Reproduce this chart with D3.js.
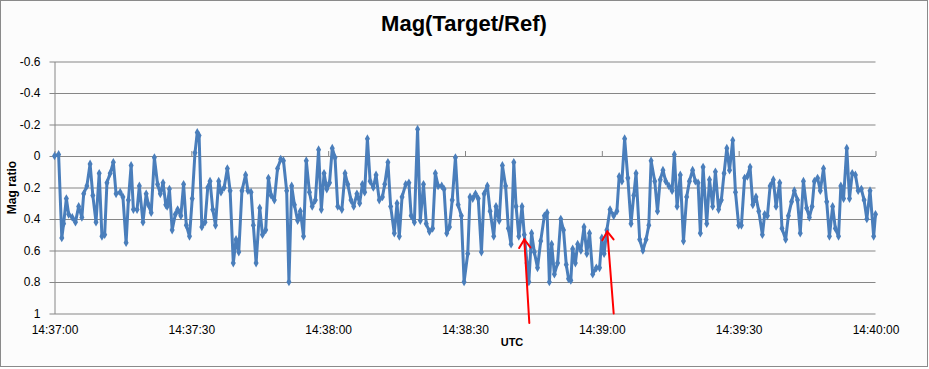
<!DOCTYPE html>
<html>
<head>
<meta charset="utf-8">
<script src="https://cdn.jsdelivr.net/npm/d3@7"></script>
<style>
  html, body { margin: 0; padding: 0; background: #ffffff; }
  svg { display: block; }
</style>
</head>
<body>
<svg id="chart" width="929" height="369"></svg>
<script>
// ---------------- DATA ----------------
const chartTitle = "Mag(Target/Ref)";
const yAxisTitle = "Mag ratio";
const xAxisTitle = "UTC";

// x tick positions (seconds after 14:37:00) and their labels
const xTickSecs   = [0, 30, 60, 90, 120, 150, 180];
const xTickLabels = ["14:37:00", "14:37:30", "14:38:00", "14:38:30", "14:39:00", "14:39:30", "14:40:00"];

// y ticks (axis reversed: -0.6 at top, 1 at bottom)
const yTickValues = [-0.6, -0.4, -0.2, 0, 0.2, 0.4, 0.6, 0.8, 1];
const yTickLabels = ["-0.6", "-0.4", "-0.2", "0", "0.2", "0.4", "0.6", "0.8", "1"];

// series: seconds after 14:37:00
const secs = [
  0.0, 0.9, 1.6, 2.0, 2.6, 3.1, 3.9, 4.6, 5.3, 6.0, 6.4, 7.1, 7.8, 8.4, 9.1, 9.8, 10.4, 11.0, 11.5, 12.2,
  12.9, 13.5, 14.4, 15.0, 15.7, 16.2, 16.8, 17.3, 18.1, 18.6, 19.4, 20.1, 20.6, 21.2, 21.9, 22.6,
  23.2, 23.8, 24.4, 24.7, 25.2, 25.8, 26.5, 27.0, 27.7, 28.3, 28.9, 29.6, 30.2, 30.8, 31.3, 31.7, 32.3,
  33.0, 33.6, 34.1, 34.7, 35.3, 36.0, 36.5, 37.2, 37.9, 38.5, 39.2, 39.8, 40.4, 41.1, 41.9, 42.4, 43.1,
  43.6, 44.2, 45.0, 45.6, 46.3, 46.9, 47.5, 48.2, 48.9, 49.6, 50.2, 50.9, 51.4, 52.0, 52.6, 53.3, 53.9,
  54.6, 55.2, 55.9, 56.5, 57.2, 57.9, 58.5, 59.1, 59.7, 60.3, 60.9, 61.5, 62.1, 63.0, 63.7, 64.3, 65.0,
  65.6, 66.3, 66.9, 67.5, 68.0, 68.6, 69.2, 69.9, 70.5, 71.2, 71.9, 72.4, 73.1, 73.7, 74.5, 75.1, 75.6,
  76.2, 77.0, 77.7, 78.2, 78.9, 79.6, 80.2, 80.9, 81.5, 82.2, 82.9, 83.5, 84.1, 84.9, 85.4, 86.0, 86.6,
  87.2, 87.9, 88.5, 89.2, 89.8, 90.6, 91.1, 91.7, 92.3, 92.9, 93.6, 94.2, 94.9, 95.5, 96.3, 96.8, 97.5,
  98.2, 98.9, 99.5, 100.1, 100.7, 101.2, 101.8, 102.5, 103.0, 103.6, 104.0, 104.6, 105.2, 105.9, 106.6,
  107.4, 108.0, 108.5, 109.0, 109.6, 110.3, 111.0, 111.6, 112.2, 112.7, 113.2, 113.6, 114.2, 114.7,
  115.4, 116.1, 116.7, 117.3, 118.0, 118.8, 119.5, 120.0, 120.5, 121.1, 121.8, 122.6, 123.3, 123.8,
  124.4, 125.0, 125.7, 126.4, 127.0, 127.5, 128.3, 129.0, 129.7, 130.3, 130.8, 131.6, 132.2, 132.8,
  133.4, 134.0, 134.7, 135.4, 135.9, 136.5, 137.2, 137.9, 138.6, 139.2, 139.9, 140.5, 141.1, 141.6,
  142.2, 143.0, 143.6, 144.3, 144.9, 145.6, 146.2, 146.8, 147.4, 148.0, 148.7, 149.3, 150.0, 150.6,
  151.3, 151.9, 152.5, 153.1, 153.8, 154.4, 155.2, 155.7, 156.3, 156.9, 157.6, 158.2, 159.0, 159.5,
  160.3, 160.9, 161.6, 162.2, 162.9, 163.5, 164.2, 164.9, 165.5, 166.1, 166.6, 167.3, 167.9, 168.6,
  169.3, 169.9, 170.6, 171.2, 171.9, 172.4, 173.0, 173.7, 174.3, 174.9, 175.6, 176.2, 176.9, 177.5,
  178.1, 178.8, 179.6, 180.0
];
const mag = [
  0.00, -0.01, 0.52, 0.43, 0.27, 0.37, 0.39, 0.42, 0.32, 0.39, 0.24, 0.19, 0.05, 0.25, 0.42, 0.11, 0.51, 0.50, 0.17, 0.11,
  0.04, 0.24, 0.23, 0.26, 0.55, 0.28, 0.06, 0.34, 0.34, 0.19, 0.42, 0.24, 0.31, 0.36, 0.01, 0.18,
  0.24, 0.17, 0.31, 0.32, 0.21, 0.47, 0.37, 0.34, 0.38, 0.18, 0.44, 0.51, 0.27, -0.02, -0.15, -0.13, 0.45,
  0.42, 0.20, 0.16, 0.34, 0.44, 0.16, 0.23, 0.20, 0.08, 0.22, 0.68, 0.53, 0.61, 0.22, 0.12, 0.22, 0.23,
  0.44, 0.68, 0.33, 0.50, 0.47, 0.14, 0.25, 0.28, 0.08, 0.02, 0.03, 0.22, 0.80, 0.19, 0.31, 0.41, 0.35,
  0.51, 0.03, 0.23, 0.32, 0.28, -0.04, 0.34, 0.11, 0.21, 0.17, -0.05, 0.01, 0.32, 0.34, 0.11, 0.18, 0.28,
  0.32, 0.24, 0.30, 0.18, 0.23, -0.11, 0.16, 0.20, 0.12, 0.28, 0.26, 0.18, 0.04, 0.32, 0.49, 0.30, 0.51,
  0.26, 0.18, 0.17, 0.38, 0.42, -0.17, 0.41, 0.18, 0.43, 0.48, 0.46, 0.11, 0.19, 0.19, 0.21, 0.49, 0.45,
  0.28, 0.01, 0.31, 0.38, 0.80, 0.62, 0.26, 0.27, 0.24, 0.27, 0.61, 0.24, 0.19, 0.35, 0.51, 0.32, 0.41,
  0.06, 0.19, 0.46, 0.56, 0.04, 0.32, 0.51, 0.32, 0.50, 0.68, 0.80, 0.49, 0.61, 0.71, 0.54,
  0.38, 0.36, 0.80, 0.56, 0.75, 0.68, 0.40, 0.47, 0.69, 0.78, 0.79, 0.59, 0.68, 0.56,
  0.60, 0.45, 0.62, 0.49, 0.75, 0.71, 0.71, 0.52, 0.62, 0.47, 0.34, 0.38, 0.35, 0.13,
  0.16, -0.11, 0.14, 0.43, 0.25, 0.11, 0.53, 0.60, 0.53, 0.44, 0.03, 0.16, 0.35, 0.15,
  0.09, 0.16, 0.19, 0.22, -0.01, 0.32, 0.12, 0.54, 0.26, 0.16, 0.09, 0.16, 0.17, 0.49,
  0.07, 0.43, 0.15, 0.32, 0.10, 0.34, 0.28, 0.11, -0.05, 0.09, -0.10, 0.23, 0.44, 0.44,
  0.14, 0.13, 0.07, 0.31, 0.26, 0.35, 0.50, 0.37, 0.38, 0.19, 0.15, 0.32, 0.17, 0.46,
  0.53, 0.38, 0.29, 0.22, 0.28, 0.49, 0.16, 0.33, 0.39, 0.32, 0.16, 0.14, 0.22, 0.08,
  0.29, 0.51, 0.32, 0.46, 0.51, 0.19, 0.27, -0.05, 0.27, 0.11, 0.12, 0.22, 0.21, 0.28,
  0.40, 0.22, 0.51, 0.37
];

// red annotation arrows (data units: seconds, magnitude)
const arrowTipSecs  = [103.0, 121.2];
const arrowTipMag   = [0.53, 0.48];
const arrowTailSecs = [104.1, 122.6];
const arrowTailMag  = [1.06, 1.00];

// ---------------- DRAW ----------------
const svg = d3.select("#chart");
const W = 929, H = 369;

svg.append("rect")
  .attr("x", 0.5).attr("y", 0.5).attr("width", W - 2).attr("height", H - 3)
  .attr("fill", "#fcfcfc").attr("stroke", "#8a8a8a").attr("stroke-width", 1);

const x = d3.scaleLinear().domain([0, 180]).range([54.5, 875.5]);
const y = d3.scaleLinear().domain([-0.6, 1]).range([61.5, 313.5]);
const plotW = x.range()[1] - x.range()[0];

const gridColor = "#868686";
const fontFam = "'Liberation Sans', Arial, sans-serif";

// Y axis with gridlines
const yAxis = d3.axisLeft(y)
  .tickValues(yTickValues)
  .tickFormat((d, i) => yTickLabels[i])
  .tickSize(-plotW)
  .tickSizeOuter(0)
  .tickPadding(14);
const gy = svg.append("g").attr("transform", `translate(${x.range()[0]},0)`).call(yAxis);
gy.select(".domain").attr("stroke", gridColor).attr("stroke-width", 1);
gy.selectAll(".tick line").attr("stroke", gridColor).attr("stroke-width", 1).attr("x1", -5);
gy.selectAll(".tick text")
  .attr("font-family", fontFam).attr("font-size", "12px").attr("fill", "#000");

// X axis line at value 0 with upward ticks
const xAxisLine = d3.axisTop(x).tickValues(xTickSecs).tickFormat("").tickSize(5).tickSizeOuter(0);
const gx0 = svg.append("g").attr("transform", `translate(0,${y(0)})`).call(xAxisLine);
gx0.select(".domain").attr("stroke", gridColor);
gx0.selectAll(".tick line").attr("stroke", gridColor);

// X tick labels at bottom
const xAxisLabels = d3.axisBottom(x).tickValues(xTickSecs)
  .tickFormat((d, i) => xTickLabels[i]).tickSize(0).tickPadding(12);
const gx = svg.append("g").attr("transform", `translate(0,${y(1)})`).call(xAxisLabels);
gx.select(".domain").remove();
gx.selectAll(".tick text").attr("font-family", fontFam).attr("font-size", "12px").attr("fill", "#000");

// Title
svg.append("text")
  .attr("x", 464).attr("y", 31)
  .attr("text-anchor", "middle")
  .attr("font-family", fontFam).attr("font-weight", "bold").attr("font-size", "22px")
  .attr("fill", "#000")
  .text(chartTitle);

// Axis titles
svg.append("text")
  .attr("transform", `translate(16,${(y(-0.6) + y(1)) / 2}) rotate(-90)`)
  .attr("text-anchor", "middle")
  .attr("font-family", fontFam).attr("font-weight", "bold").attr("font-size", "12px")
  .attr("fill", "#000")
  .text(yAxisTitle);

svg.append("text")
  .attr("x", 512).attr("y", 346)
  .attr("text-anchor", "middle")
  .attr("font-family", fontFam).attr("font-weight", "bold").attr("font-size", "11px")
  .attr("fill", "#000")
  .text(xAxisTitle);

// Series line
const pts = secs.map((s, i) => [s, mag[i]]);
const line = d3.line().x(d => x(d[0])).y(d => y(d[1]));
const seriesColor = "#4a7ebb";

svg.append("path")
  .datum(pts)
  .attr("fill", "none")
  .attr("stroke", seriesColor)
  .attr("stroke-width", 3)
  .attr("stroke-linejoin", "round")
  .attr("d", line);

svg.append("g").selectAll("path")
  .data(pts)
  .join("path")
  .attr("transform", d => `translate(${x(d[0])},${y(d[1])})`)
  .attr("d", d3.symbol(d3.symbolDiamond, 22))
  .attr("fill", seriesColor);

// Red arrows
const arrows = arrowTipSecs.map((s, i) => ({
  tip: [x(s), y(arrowTipMag[i])],
  tail: [x(arrowTailSecs[i]), y(arrowTailMag[i])]
}));
const ga = svg.append("g").attr("stroke", "#ff0000").attr("fill", "none")
  .attr("stroke-width", 2).attr("stroke-linecap", "round");
arrows.forEach(a => {
  ga.append("line")
    .attr("x1", a.tail[0]).attr("y1", a.tail[1])
    .attr("x2", a.tip[0]).attr("y2", a.tip[1]);
  const ang = Math.atan2(a.tip[1] - a.tail[1], a.tip[0] - a.tail[0]);
  const len = 10, spread = 0.6;
  const p1 = [a.tip[0] - len * Math.cos(ang - spread), a.tip[1] - len * Math.sin(ang - spread)];
  const p2 = [a.tip[0] - len * Math.cos(ang + spread), a.tip[1] - len * Math.sin(ang + spread)];
  ga.append("path").attr("d", `M${p1[0]},${p1[1]}L${a.tip[0]},${a.tip[1]}L${p2[0]},${p2[1]}`);
});
</script>
</body>
</html>
